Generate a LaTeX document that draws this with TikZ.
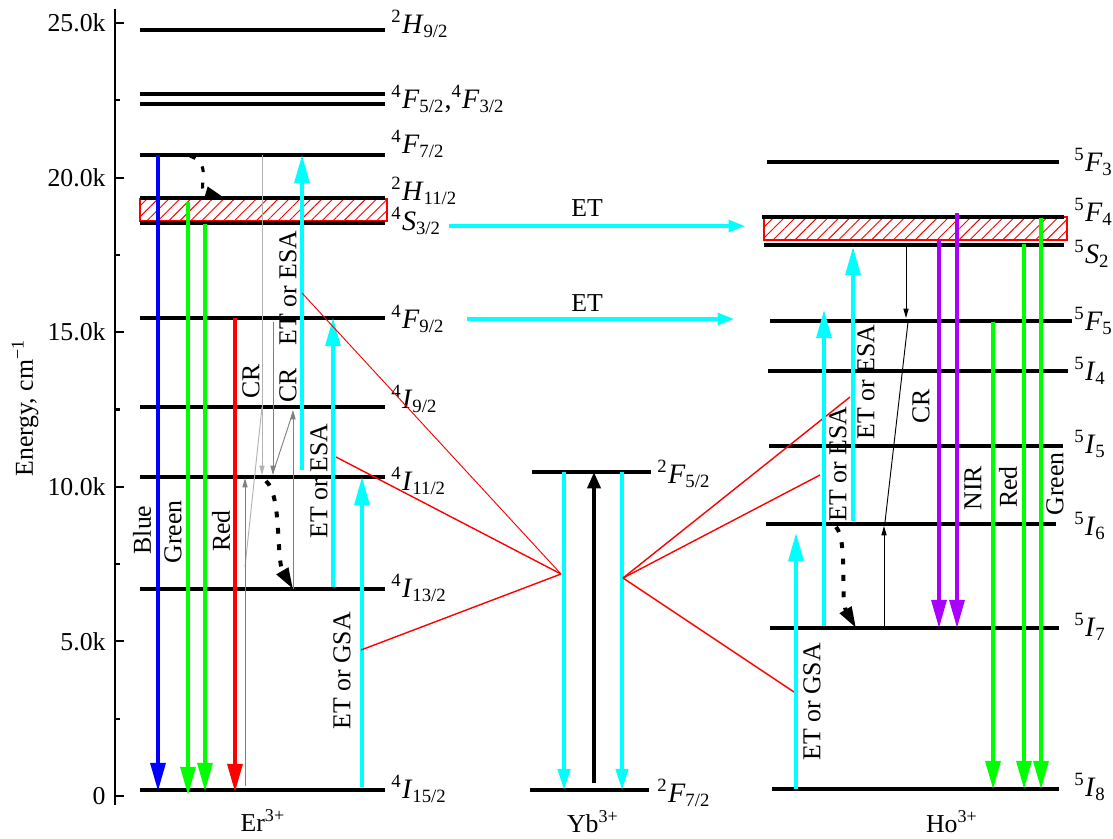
\documentclass[tikz,border=0pt]{standalone}
\usepackage{fontspec}
\setmainfont{Liberation Serif}
\usetikzlibrary{arrows.meta, patterns.meta}

\definecolor{nirviolet}{RGB}{170,0,255}
\definecolor{pumpcyan}{RGB}{0,255,255}
\definecolor{emgreen}{RGB}{0,255,0}
\definecolor{emblue}{RGB}{0,0,255}
\definecolor{emred}{RGB}{255,0,0}

\begin{document}
\begin{tikzpicture}[
    x=0.015cm, y=-0.015cm,
    % Styles
    lvline/.style={line width=1.7pt},
    lvlabel/.style={anchor=base west, inner sep=0pt, font=\fontsize{12}{14}\selectfont},
    ionlabel/.style={anchor=base, inner sep=0pt, font=\fontsize{11}{13}\selectfont},
    ticklabel/.style={anchor=east, inner sep=0pt, font=\fontsize{11}{13}\selectfont},
    axisline/.style={line width=0.9pt},
    emit/.style={line width=1.4pt, draw=#1, -{Triangle[length=12pt,width=6.4pt]}},
    emit/.default=pumpcyan,
    pump/.style={line width=1.6pt, draw=#1, -{Triangle[length=9pt,width=5.2pt]}},
    pump/.default=pumpcyan,
    etarrow/.style={line width=1.4pt, pumpcyan, -{Triangle[length=7pt,width=5pt]}},
    proc/.style={rotate=90, inner sep=0pt, font=\fontsize{11}{13}\selectfont},
    thinarr/.style={line width=0.4pt, -{Triangle[length=4pt,width=2.2pt]}},
    nonrad/.style={line width=#1, dash pattern=on 2.5pt off 4.5pt, -{Triangle[length=9pt,width=5.5pt]}},
    nonrad/.default=1.7pt,
    band/.style={draw=emred, line width=0.5pt, pattern={Lines[angle=45,distance=3.3pt,line width=0.4pt]}, pattern color=emred},
    etline/.style={emred, line width=0.6pt}
]
\useasboundingbox (0,0) rectangle (1113,838);

% Energy axis
\draw[axisline] (115,9) -- (115,805);
\draw[axisline] (115,23) -- (124,23);
\draw[axisline] (115,177.6) -- (124,177.6);
\draw[axisline] (115,332.2) -- (124,332.2);
\draw[axisline] (115,486.8) -- (124,486.8);
\draw[axisline] (115,641.4) -- (124,641.4);
\draw[axisline] (115,796) -- (124,796);
\draw[axisline] (115,100.3) -- (120,100.3);
\draw[axisline] (115,254.9) -- (120,254.9);
\draw[axisline] (115,409.5) -- (120,409.5);
\draw[axisline] (115,564.1) -- (120,564.1);
\draw[axisline] (115,718.7) -- (120,718.7);
\node[ticklabel] (t25) at (106,23) {25.0k};
\node[ticklabel] (t20) at (106,177.6) {20.0k};
\node[ticklabel] (t15) at (106,332.2) {15.0k};
\node[ticklabel] (t10) at (106,486.8) {10.0k};
\node[ticklabel] (t5) at (106,641.4) {5.0k};
\node[ticklabel] (t0) at (106,796) {0};
\node[proc] (energy) at (25,408) {Energy, cm\textsuperscript{−1}};

% Hatched bands
\draw[band] (140,199) rectangle (387,221);
\draw[band] (764,217) rectangle (1067,240);

% Er levels
\draw[lvline] (140,30) -- (385,30);
\draw[lvline] (140,94) -- (385,94);
\draw[lvline] (140,104) -- (385,104);
\draw[lvline] (140,155) -- (385,155);
\draw[lvline] (140,198) -- (385,198);
\draw[lvline] (140,223) -- (385,223);
\draw[lvline] (140,318) -- (385,318);
\draw[lvline] (140,407) -- (385,407);
\draw[lvline] (140,477) -- (385,477);
\draw[lvline] (140,589) -- (385,589);
\draw[lvline] (140,790) -- (385,790);
\node[lvlabel] (erH92) at (391,33) {\textsuperscript{2}\textit{H}\textsubscript{9/2}};
\node[lvlabel] (erF52) at (391,108) {\textsuperscript{4}\textit{F}\textsubscript{5/2},\textsuperscript{4}\textit{F}\textsubscript{3/2}};
\node[lvlabel] (erF72) at (391,153) {\textsuperscript{4}\textit{F}\textsubscript{7/2}};
\node[lvlabel] (erH112) at (391,200) {\textsuperscript{2}\textit{H}\textsubscript{11/2}};
\node[lvlabel] (erS32) at (391,230) {\textsuperscript{4}\textit{S}\textsubscript{3/2}};
\node[lvlabel] (erF92) at (391,328) {\textsuperscript{4}\textit{F}\textsubscript{9/2}};
\node[lvlabel] (erI92) at (391,408) {\textsuperscript{4}\textit{I}\textsubscript{9/2}};
\node[lvlabel] (erI112) at (391,490) {\textsuperscript{4}\textit{I}\textsubscript{11/2}};
\node[lvlabel] (erI132) at (391,597) {\textsuperscript{4}\textit{I}\textsubscript{13/2}};
\node[lvlabel] (erI152) at (391,798) {\textsuperscript{4}\textit{I}\textsubscript{15/2}};
\node[ionlabel] (er) at (263,831) {Er\textsuperscript{3+}};

% Yb levels
\draw[lvline] (532,472) -- (651,472);
\draw[lvline] (530,790) -- (649,790);
\node[lvlabel] (ybF52) at (657,483) {\textsuperscript{2}\textit{F}\textsubscript{5/2}};
\node[lvlabel] (ybF72) at (657,802) {\textsuperscript{2}\textit{F}\textsubscript{7/2}};
\node[ionlabel] (yb) at (593,832) {Yb\textsuperscript{3+}};

% Ho levels
\draw[lvline] (767,162) -- (1059,162);
\draw[lvline] (762,217) -- (1064,217);
\draw[lvline] (764,245) -- (1064,245);
\draw[lvline] (770,321) -- (1072,321);
\draw[lvline] (768,371) -- (1068,371);
\draw[lvline] (769,446) -- (1063,446);
\draw[lvline] (766,524) -- (1056,524);
\draw[lvline] (770,628) -- (1059,628);
\draw[lvline] (772,789) -- (1059,789);
\node[lvlabel] (hoF3) at (1074,171) {\textsuperscript{5}\textit{F}\textsubscript{3}};
\node[lvlabel] (hoF4) at (1074,221) {\textsuperscript{5}\textit{F}\textsubscript{4}};
\node[lvlabel] (hoS2) at (1074,263) {\textsuperscript{5}\textit{S}\textsubscript{2}};
\node[lvlabel] (hoF5) at (1074,330) {\textsuperscript{5}\textit{F}\textsubscript{5}};
\node[lvlabel] (hoI4) at (1074,380) {\textsuperscript{5}\textit{I}\textsubscript{4}};
\node[lvlabel] (hoI5) at (1074,453) {\textsuperscript{5}\textit{I}\textsubscript{5}};
\node[lvlabel] (hoI6) at (1074,535) {\textsuperscript{5}\textit{I}\textsubscript{6}};
\node[lvlabel] (hoI7) at (1074,636) {\textsuperscript{5}\textit{I}\textsubscript{7}};
\node[lvlabel] (hoI8) at (1074,796) {\textsuperscript{5}\textit{I}\textsubscript{8}};
\node[ionlabel] (ho) at (952,832) {Ho\textsuperscript{3+}};

% Er cross relaxation
\draw[thinarr, gray!60] (262,155) -- (262,475);
\draw[gray!60, line width=0.4pt] (262,407) -- (245,567);
\draw[thinarr, gray] (245,786) -- (245,478);
\draw[thinarr, gray] (273,322) -- (273,475);
\draw[thinarr, gray] (293,589) -- (293,410);
\draw[gray, line width=0.4pt] (293,412) -- (273,473);
\node[proc] (cr1) at (251,381) {CR};
\node[proc] (cr2) at (288,385) {CR};

% Er emissions
\draw[emit=emblue] (158,155) -- (158,791);
\draw[emit=emgreen] (188,202) -- (188,795);
\draw[emit=emgreen] (205,224) -- (205,791);
\draw[emit=emred] (235,318) -- (235,792);
\node[proc] (blue) at (142,530) {Blue};
\node[proc] (green) at (173,532) {Green};
\node[proc] (red) at (221,531) {Red};

% Er pumping
\draw[emit] (302,470) -- (302,155);
\draw[emit] (333,587) -- (333,318);
\draw[emit] (362,787) -- (362,477);
\node[proc] (esa1) at (288,288) {ET or ESA};
\node[proc] (esa2) at (319,481) {ET or ESA};
\node[proc] (gsa1) at (342,671) {ET or GSA};

% Er nonradiative relaxation
\draw[nonrad=1.3pt] (190,156) .. controls (215,165) and (195,190) .. (226,199);
\draw[nonrad] (266,481) .. controls (282,495) and (276,560) .. (293,589);

% Yb absorption and transfer
\draw[pump] (564,472) -- (564,790);
\draw[pump] (622,472) -- (622,790);
\draw[line width=1.9pt, -{Triangle[length=7pt,width=5.5pt]}] (594,783) -- (594,472);
\coordinate (ybL) at (561,574);
\coordinate (ybR) at (623,578);
\draw[etline, line width=0.4pt] (ybL) -- (302,293);
\draw[etline] (ybL) -- (336,457);
\draw[etline] (ybL) -- (361,650);
\draw[etline] (ybR) -- (850,397);
\draw[etline] (ybR) -- (820,475);
\draw[etline] (ybR) -- (794,692);

% Er to Ho transfer
\draw[etarrow] (449,226) -- (745,226);
\draw[etarrow] (467,319) -- (734,319);
\node[ionlabel, anchor=center] (et1) at (587,208) {ET};
\node[ionlabel, anchor=center] (et2) at (587,303) {ET};

% Ho pumping
\draw[emit] (796,789) -- (796,533);
\draw[emit] (824,626) -- (824,310);
\draw[emit] (853,521) -- (853,247);
\node[proc] (hgsa) at (812,702) {ET or GSA};
\node[proc] (hesa1) at (838,464) {ET or ESA};
\node[proc] (hesa2) at (866,382) {ET or ESA};

% Ho cross relaxation
\draw[thinarr] (906,247) -- (906,318);
\draw[line width=0.4pt] (908,322) -- (885,522);
\draw[thinarr] (884,628) -- (884,526);
\node[proc] (hcr) at (921,406) {CR};
\draw[nonrad] (836,527) .. controls (848,540) and (840,600) .. (856,628);

% Ho emissions
\draw[emit=nirviolet] (939,240) -- (939,628);
\draw[emit=nirviolet] (957,213) -- (957,628);
\draw[emit=emgreen] (993,322) -- (993,789);
\draw[emit=emgreen] (1024,244) -- (1024,789);
\draw[emit=emgreen] (1041,218) -- (1041,789);
\node[proc] (nir) at (973,488) {NIR};
\node[proc] (hred) at (1008,487) {Red};
\node[proc] (hgreen) at (1055,484) {Green};

\end{tikzpicture}
\end{document}
